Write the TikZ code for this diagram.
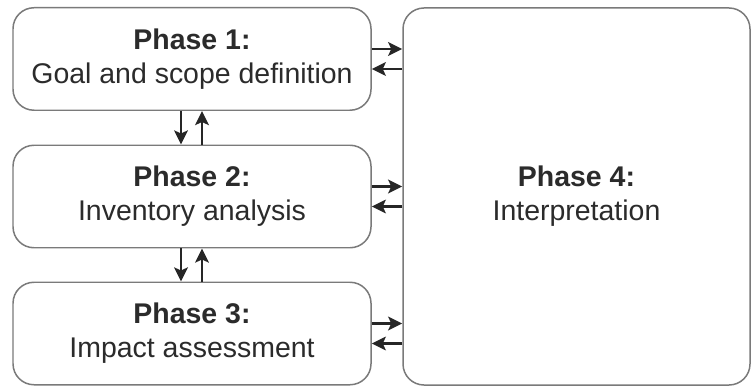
\documentclass[tikz,border=0pt]{standalone}
\usepackage{fontspec}
\setmainfont{Liberation Sans}
\usepackage{xcolor}
\usetikzlibrary{arrows.meta}

\definecolor{boxline}{HTML}{7A7A7A}
\definecolor{txt}{HTML}{2B2B2B}

\begin{document}
\begin{tikzpicture}[
        phase/.style={rectangle, rounded corners=0.42cm, draw=boxline, line width=0.85pt, fill=white, minimum width=7.16cm, minimum height=2.05cm, align=center, text=txt, font=\fontsize{16.2}{19.5}\selectfont},
        arr/.style={-{Stealth[length=2.8mm, width=2.7mm, inset=0.6mm]}, line width=1.5pt, black!85}
    ]
        \useasboundingbox (0,0) rectangle (15.02,-7.74);

        \node[phase] (p1) at (3.84,-1.18) {\textbf{Phase 1:}\\Goal and scope definition};
        \node[phase] (p2) at (3.84,-3.93) {\textbf{Phase 2:}\\Inventory analysis};
        \node[phase] (p3) at (3.84,-6.67) {\textbf{Phase 3:}\\Impact assessment};
        \node[phase, minimum width=6.94cm, minimum height=7.54cm] (p4) at (11.53,-3.93) {\textbf{Phase 4:}\\Interpretation};

        % phases 1-3 to interpretation and back
        \foreach \p in {p1,p2,p3} {
            \draw[arr] ([yshift=0.2cm]\p.east) -- ([yshift=0.2cm]\p.east -| p4.west);
            \draw[arr] ([yshift=-0.2cm]\p.east -| p4.west) -- ([yshift=-0.2cm]\p.east);
        }

        % between the phases
        \draw[arr] ([xshift=-0.22cm]p1.south) -- ([xshift=-0.22cm]p2.north);
        \draw[arr] ([xshift=0.2cm]p2.north) -- ([xshift=0.2cm]p1.south);
        \draw[arr] ([xshift=-0.22cm]p2.south) -- ([xshift=-0.22cm]p3.north);
        \draw[arr] ([xshift=0.2cm]p3.north) -- ([xshift=0.2cm]p2.south);
    \end{tikzpicture}
\end{document}
